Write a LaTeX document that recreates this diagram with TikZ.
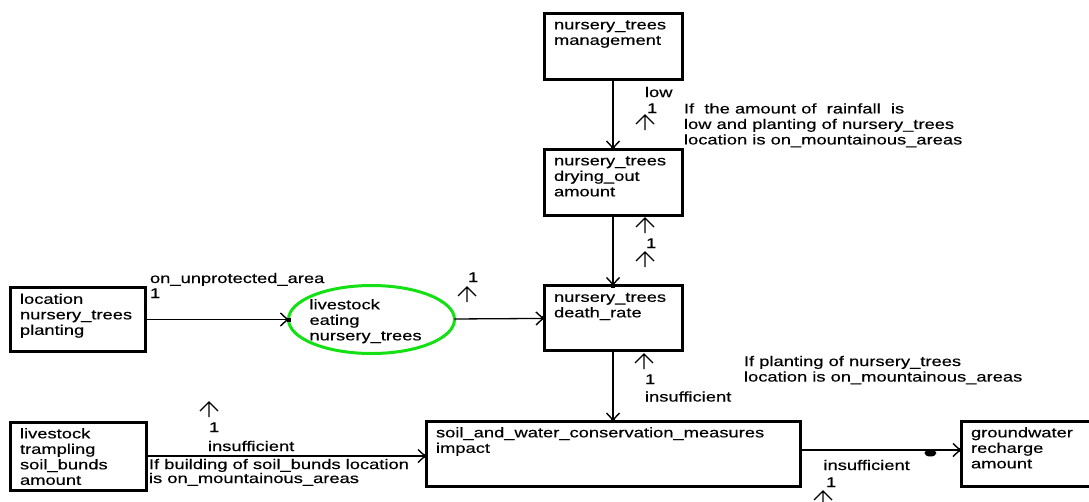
\documentclass[tikz,border=0pt]{standalone}
\usepackage{fontspec}
\setmainfont{Liberation Sans}[FakeStretch=1.31,FakeBold=0.35]
\usetikzlibrary{arrows.meta,shapes.geometric}

\definecolor{ellgreen}{RGB}{20,225,20}

\tikzset{
  x=1pt, y=-1pt,
  every node/.style={font=\fontsize{14}{15.5}\selectfont, inner sep=0pt, outer sep=0pt},
  entity/.style={draw, line width=3pt, rectangle, anchor=north west},
  boxtxt/.style={anchor=north west, align=left, xshift=10pt, yshift=-5.5pt},
  proc/.style={draw=ellgreen, line width=3pt, ellipse, minimum width=166pt, minimum height=68pt},
  conn/.style={line width=1.3pt, -{Straight Barb[length=7pt,width=13pt,line width=1.4pt]}},
  tipsq/.style={fill, minimum size=4pt},
  dotmark/.style={ellipse, fill, minimum width=12pt, minimum height=7pt},
  note/.style={anchor=north west, align=left},
  tag/.style={anchor=base west},
  upmark/.pic={\draw[line width=1.3pt] (0,0) -- (0,15) (-9,9) -- (0,0) -- (9,9);}
}

\begin{document}
\begin{tikzpicture}
\useasboundingbox (0,0) rectangle (1089,501);

% entities
\node[entity, minimum width=138pt, minimum height=66pt,
  label={[boxtxt]north west:{\strut nursery\_trees\\management}}] (mgmt) at (544,13) {};
\node[entity, minimum width=138pt, minimum height=66pt,
  label={[boxtxt]north west:{\strut nursery\_trees\\drying\_out\\amount}}] (dry) at (544,149) {};
\node[entity, minimum width=138pt, minimum height=65pt,
  label={[boxtxt]north west:{\strut nursery\_trees\\death\_rate}}] (death) at (544,285.5) {};
\node[entity, minimum width=135pt, minimum height=64pt,
  label={[boxtxt]north west:{\strut location\\nursery\_trees\\planting}}] (loc) at (10,287.5) {};
\node[entity, minimum width=136pt, minimum height=68pt,
  label={[boxtxt]north west:{\strut livestock\\trampling\\soil\_bunds\\amount}}] (tramp) at (10,422) {};
\node[entity, minimum width=374pt, minimum height=65pt,
  label={[boxtxt]north west:{\strut soil\_and\_water\_conservation\_measures\\impact}}] (soil) at (426,421) {};
\node[entity, minimum width=140pt, minimum height=65pt,
  label={[boxtxt]north west:{\strut groundwater\\recharge\\amount}}] (ground) at (961,421) {};

% process
\node[proc, label={[anchor=north west, align=left, xshift=21pt, yshift=21pt]west:{\strut livestock\\eating\\nursery\_trees}}] (ell) at (371.5,319.5) {};

% connectors
\draw[conn] (mgmt) -- (dry) node[pos=1, tipsq] (t1) {};
\draw[conn] (dry) -- (death) node[pos=1, tipsq] (t2) {};
\draw[conn] (loc) -- (ell) node[pos=1, tipsq] (t3) {};
\draw[conn] (ell) -- (death) node[pos=1, tipsq] (t4) {};
\draw[conn] (death) -- (soil) node[pos=1, tipsq] (t5) {};
\draw[conn] (tramp.east) -- (tramp.east -| soil.west) node[pos=1, tipsq] (t6) {};
\draw[conn] ([yshift=3.5pt]soil.east) -- ([yshift=3.5pt]soil.east -| ground.west)
  node[pos=1, tipsq] (t7) {} node[pos=0.81, dotmark, yshift=-3pt] (d7) {};

% management -> drying out
\node[tag] (l1) at (645,97) {low};
\node[tag] (n1) at (647,113) {1};
\pic at (645,115) {upmark};
\node[note] (c1) at (684,102.6) {\strut If\ \ the amount of\ \ rainfall\ \ is\\low and planting of nursery\_trees\\location is on\_mountainous\_areas};

% drying out -> death rate
\pic at (645,218) {upmark};
\node[tag] (n2) at (646,248) {1};
\pic at (645,252) {upmark};

% location -> livestock eating
\node[tag] (l3) at (150,283) {on\_unprotected\_area};
\node[tag] (n3) at (150,298) {1};

% livestock eating -> death rate
\node[tag] (n4) at (468,282) {1};
\pic at (467,287) {upmark};

% death rate -> conservation measures
\pic at (644,354) {upmark};
\node[tag] (n5) at (645,384) {1};
\node[tag] (l5) at (645,401.5) {insufficient};
\node[note] (c5) at (744,355.2) {\strut If planting of nursery\_trees\\location is on\_mountainous\_areas};

% trampling -> conservation measures
\pic at (209,402) {upmark};
\node[tag] (n6) at (209,432) {1};
\node[tag] (l6) at (208,451) {insufficient};
\node[note] (c6) at (149,458.2) {\strut If building of soil\_bunds location\\[-1.5pt]is on\_mountainous\_areas};

% conservation measures -> groundwater recharge
\node[tag] (l7) at (823.5,470) {insufficient};
\node[tag] (n7) at (826,487) {1};
\pic at (823,491) {upmark};
\end{tikzpicture}
\end{document}
